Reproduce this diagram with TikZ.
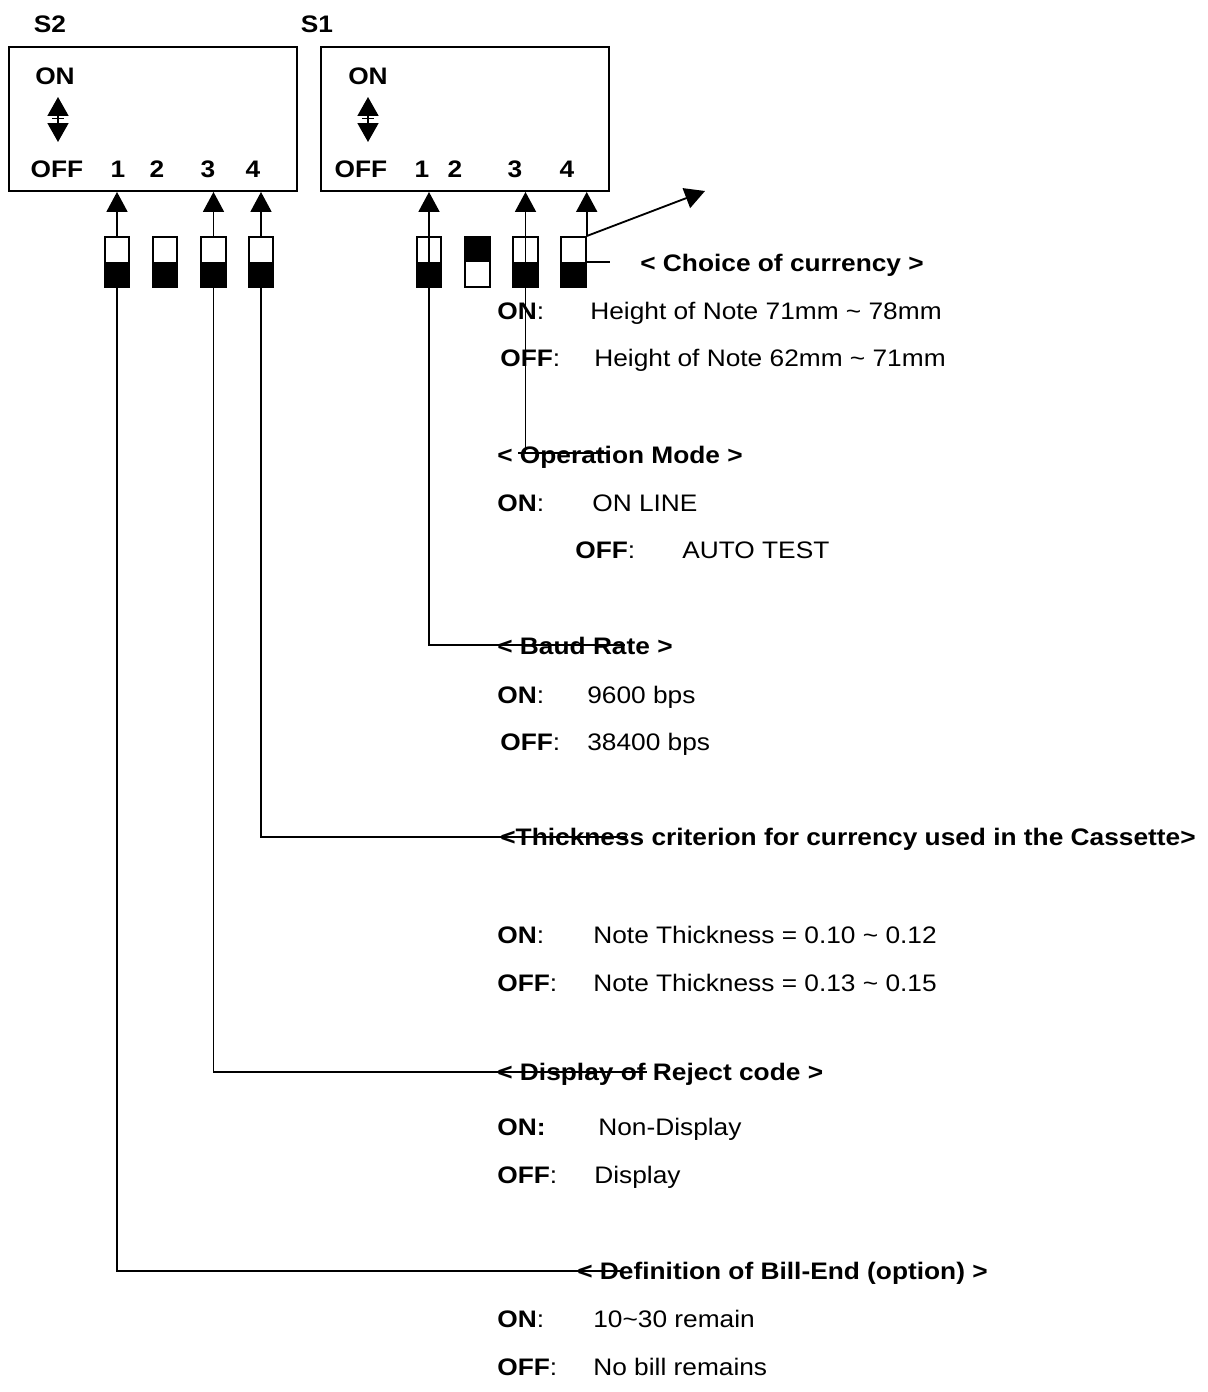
\documentclass[tikz,border=0pt]{standalone}
\usepackage{fontspec}
\setmainfont[FakeStretch=1.1]{Liberation Sans}
\usetikzlibrary{arrows.meta}
\tikzset{
  dipbox/.style={
    draw=black,
    line width=1.1pt,
    minimum width=5.76cm,
    minimum height=2.88cm,
    inner sep=0pt
  },
  dipkey/.style={
    draw=black,
    line width=1.1pt,
    minimum width=0.49cm,
    minimum height=1cm,
    inner sep=0pt
  },
  keyoff/.style={
    dipkey,
    path picture={\fill[black] (path picture bounding box.west) rectangle (path picture bounding box.south east);}
  },
  keyon/.style={
    dipkey,
    path picture={\fill[black] (path picture bounding box.north west) rectangle (path picture bounding box.east);}
  },
  boxtext/.style={
    anchor=base,
    inner sep=0pt,
    font=\fontsize{13.6}{16}\selectfont\bfseries
  },
  headtext/.style={
    anchor=base west,
    inner sep=0pt,
    font=\fontsize{13.6}{16}\selectfont\bfseries
  },
  bodytext/.style={
    anchor=base west,
    inner sep=0pt,
    font=\fontsize{13.6}{16}\selectfont
  },
  flowarrow/.style={
    -{Triangle[length=0.4cm,width=0.42cm]},
    line width=1.05pt
  },
  bothway/.style={
    {Triangle[length=0.38cm,width=0.42cm]}-{Triangle[length=0.38cm,width=0.42cm]},
    line width=1.05pt
  },
  pointer/.style={
    line width=1.05pt
  }
}

\begin{document}
\begin{tikzpicture}[x=0.02cm,y=-0.02cm]
  \useasboundingbox (0,0) rectangle (1207,1392);

  % switch blocks
  \node[boxtext] (s2name) at (50,33) {S2};
  \node[boxtext] (s1name) at (317,33) {S1};
  \node[dipbox] (s2box) at (153,119) {};
  \node[dipbox] (s1box) at (465,119) {};

  \node[boxtext] (s2on) at (55,85) {ON};
  \node[boxtext] (s2off) at (57,178) {OFF};
  \node[boxtext] (s2n1) at (118,178) {1};
  \node[boxtext] (s2n2) at (157,178) {2};
  \node[boxtext] (s2n3) at (208,178) {3};
  \node[boxtext] (s2n4) at (253,178) {4};
  \coordinate (s2up) at (58,97);
  \coordinate (s2down) at (58,142);
  \draw[bothway] (s2up) -- (s2down);
  \draw[pointer] (52,118.5) -- (64,118.5);

  \node[boxtext] (s1on) at (368,85) {ON};
  \node[boxtext] (s1off) at (361,178) {OFF};
  \node[boxtext] (s1n1) at (422,178) {1};
  \node[boxtext] (s1n2) at (455,178) {2};
  \node[boxtext] (s1n3) at (515,178) {3};
  \node[boxtext] (s1n4) at (567,178) {4};
  \coordinate (s1up) at (368,97);
  \coordinate (s1down) at (368,142);
  \draw[bothway] (s1up) -- (s1down);
  \draw[pointer] (362,118.5) -- (374,118.5);

  % keys
  \node[keyoff] (s2k1) at (117,262) {};
  \node[keyoff] (s2k2) at (165,262) {};
  \node[keyoff] (s2k3) at (213.5,262) {};
  \node[keyoff] (s2k4) at (261,262) {};
  \node[keyoff] (s1k1) at (429,262) {};
  \node[keyon] (s1k2) at (477.5,262) {};
  \node[keyoff] (s1k3) at (525.5,262) {};
  \node[keyoff] (s1k4) at (573.5,262) {};

  % settings text
  \node[headtext] (curhead) at (640,271) {< Choice of currency >};
  \node[bodytext] (curon) at (497,319) {\textbf{ON}:};
  \node[bodytext] (curonval) at (590,319) {Height of Note 71mm \textasciitilde{} 78mm};
  \node[bodytext] (curoff) at (500,366) {\textbf{OFF}:};
  \node[bodytext] (curoffval) at (594,366) {Height of Note 62mm \textasciitilde{} 71mm};

  \node[headtext] (ophead) at (497,463) {< Operation Mode >};
  \node[bodytext] (opon) at (497,511) {\textbf{ON}:};
  \node[bodytext] (litonval) at (592,511) {ON LINE};
  \node[bodytext] (opoff) at (575,558) {\textbf{OFF}:};
  \node[bodytext] (opoffval) at (682,558) {AUTO TEST};

  \node[headtext] (baudhead) at (497,654) {< Baud Rate >};
  \node[bodytext] (baudon) at (497,703) {\textbf{ON}:};
  \node[bodytext] (baudonval) at (587,703) {9600 bps};
  \node[bodytext] (baudoff) at (500,750) {\textbf{OFF}:};
  \node[bodytext] (baudoffval) at (587,750) {38400 bps};

  \node[headtext] (thickhead) at (500,845) {<Thickness criterion for currency used in the Cassette>};
  \node[bodytext] (thickon) at (497,943) {\textbf{ON}:};
  \node[bodytext] (thickonval) at (593,943) {Note Thickness = 0.10 \textasciitilde{} 0.12};
  \node[bodytext] (thickoff) at (497,991) {\textbf{OFF}:};
  \node[bodytext] (thickoffval) at (593,991) {Note Thickness = 0.13 \textasciitilde{} 0.15};

  \node[headtext] (disphead) at (497,1080) {< Display of Reject code >};
  \node[bodytext] (dispon) at (497,1135) {\textbf{ON:}};
  \node[bodytext] (disponval) at (598,1135) {Non-Display};
  \node[bodytext] (dispoff) at (497,1183) {\textbf{OFF}:};
  \node[bodytext] (dispoffval) at (594,1183) {Display};

  \node[headtext] (defhead) at (577,1279) {< Definition of Bill-End (option) >};
  \node[bodytext] (defon) at (497,1327) {\textbf{ON}:};
  \node[bodytext] (defonval) at (593,1327) {10\textasciitilde30 remain};
  \node[bodytext] (defoff) at (497,1375) {\textbf{OFF}:};
  \node[bodytext] (defoffval) at (593,1375) {No bill remains};

  % line ends
  \coordinate (curtip) at (705,191);
  \coordinate (curend) at (610,262);
  \coordinate (opleft) at (518,453);
  \coordinate (opright) at (608,453);
  \coordinate (baudend) at (625,645);
  \coordinate (thickend) at (627,837);
  \coordinate (dispend) at (647,1072);
  \coordinate (defend) at (623,1271);

  % S1 connectors
  \draw[flowarrow] (s1k1.south) -- (s1k1.south |- s1box.south);
  \draw[pointer] (s1k1.south) |- (baudend);
  \draw[flowarrow] (s1k3.south) -- (s1k3.south |- s1box.south);
  \draw[pointer] (s1k3.south) -- (s1k3.south |- opleft);
  \draw[pointer] (opleft) -- (opright);
  \draw[flowarrow] (s1k4.north east) -- (s1k4.north east |- s1box.south);
  \draw[flowarrow] (s1k4.north east) -- (curtip);
  \draw[pointer] (s1k4.east) -- (curend);

  % S2 connectors
  \draw[flowarrow] (s2k1.north) -- (s2k1.north |- s2box.south);
  \draw[pointer] (s2k1.south) |- (defend);
  \draw[flowarrow] (s2k3.north) -- (s2k3.north |- s2box.south);
  \draw[pointer] (s2k3.south) |- (dispend);
  \draw[flowarrow] (s2k4.north) -- (s2k4.north |- s2box.south);
  \draw[pointer] (s2k4.south) |- (thickend);
\end{tikzpicture}
\end{document}
